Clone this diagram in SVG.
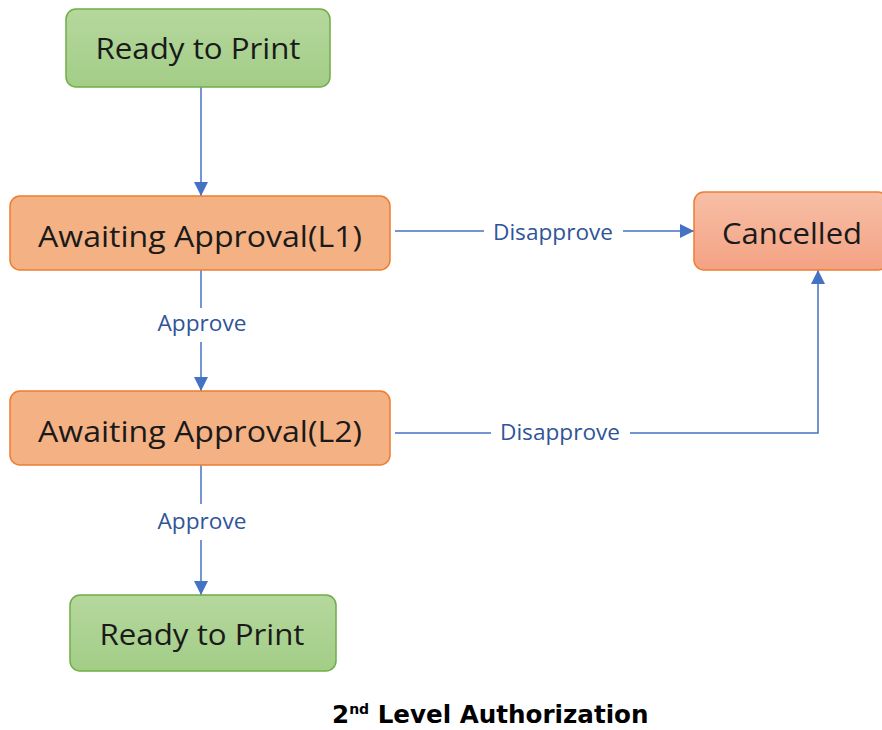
<svg xmlns="http://www.w3.org/2000/svg" width="882" height="730" viewBox="0 0 882 730">
<style>
.green{fill:url(#gg);stroke:#70ad47;stroke-width:1.5}
.orange{fill:#f4b183;stroke:#ed7d31;stroke-width:1.5}
.cancel{fill:url(#og);stroke:#ed7d31;stroke-width:1.5}
.nt{font-family:"Open Sans","Noto Sans",sans-serif;font-size:30px;fill:#1a1a1a;text-anchor:middle}
.ln{fill:none;stroke:#4472c4;stroke-width:1.5}
.lb{font-family:"Open Sans","Noto Sans",sans-serif;font-size:21px;fill:#2f5597;text-anchor:middle}
.cap{font-family:"DejaVu Sans","Liberation Sans",sans-serif;font-weight:bold;font-size:24.6px;fill:#000}
</style>
<defs>
<linearGradient id="gg" x1="0" y1="0" x2="0" y2="1"><stop offset="0" stop-color="#b5d89d"/><stop offset="1" stop-color="#a3cd87"/></linearGradient>
<linearGradient id="og" x1="0" y1="0" x2="0" y2="1"><stop offset="0" stop-color="#f7bfa6"/><stop offset="1" stop-color="#f4a283"/></linearGradient>
<marker id="ahb" viewBox="0 0 10 10" refX="10" refY="5" markerWidth="14" markerHeight="14" orient="auto" markerUnits="userSpaceOnUse">
<path d="M0,0 L10,5 L0,10 z" fill="#4472c4"/>
</marker>
</defs>
<g id="connectors">
<path class="ln" d="M201,87 V196" marker-end="url(#ahb)"/>
<path class="ln" d="M201,270 V308"/>
<path class="ln" d="M201,342 V391" marker-end="url(#ahb)"/>
<text class="lb" x="202" y="331" textLength="89" lengthAdjust="spacingAndGlyphs">Approve</text>
<path class="ln" d="M201,465 V504"/>
<path class="ln" d="M201,540 V595" marker-end="url(#ahb)"/>
<text class="lb" x="202" y="529" textLength="89" lengthAdjust="spacingAndGlyphs">Approve</text>
<path class="ln" d="M395,231 H484"/>
<path class="ln" d="M623,231 H694" marker-end="url(#ahb)"/>
<text class="lb" x="553" y="240" textLength="120" lengthAdjust="spacingAndGlyphs">Disapprove</text>
<path class="ln" d="M395,433 H491"/>
<path class="ln" d="M630,433 H818 V270" marker-end="url(#ahb)"/>
<text class="lb" x="560" y="440" textLength="120" lengthAdjust="spacingAndGlyphs">Disapprove</text>
</g>
<g id="ready1"><rect class="green" x="66" y="9" width="264" height="78" rx="10"/><text class="nt" x="198" y="59" textLength="205" lengthAdjust="spacingAndGlyphs">Ready to Print</text></g>
<g id="l1"><rect class="orange" x="10" y="196" width="380" height="74" rx="10"/><text class="nt" x="200" y="247" textLength="324" lengthAdjust="spacingAndGlyphs">Awaiting Approval(L1)</text></g>
<g id="cancelled"><rect class="cancel" x="694" y="192" width="194" height="78" rx="10"/><text class="nt" x="792" y="244" textLength="140" lengthAdjust="spacingAndGlyphs">Cancelled</text></g>
<g id="l2"><rect class="orange" x="10" y="391" width="380" height="74" rx="10"/><text class="nt" x="200" y="442" textLength="324" lengthAdjust="spacingAndGlyphs">Awaiting Approval(L2)</text></g>
<g id="ready2"><rect class="green" x="70" y="595" width="266" height="76" rx="10"/><text class="nt" x="202" y="645" textLength="205" lengthAdjust="spacingAndGlyphs">Ready to Print</text></g>
<text class="cap" x="332" y="723">2<tspan font-size="14" dy="-9">nd</tspan><tspan dy="9"> Level Authorization</tspan></text>
</svg>
